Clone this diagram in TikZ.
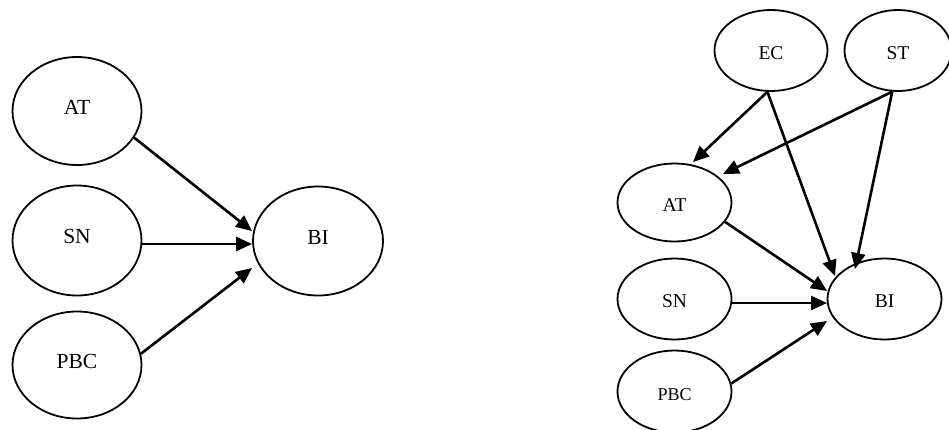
\documentclass[tikz,border=0pt]{standalone}
\usepackage{fontspec}
\setmainfont{Liberation Serif}
\usetikzlibrary{shapes.geometric,arrows.meta}
\begin{document}
\begin{tikzpicture}[x=1pt,y=-1pt,
  var/.style={ellipse, draw, line width=1.8pt, inner sep=0pt},
  lvar/.style={var, minimum width=129pt, minimum height=109pt,
    font=\fontsize{21.5}{25}\selectfont, text height=14.2pt, text depth=8pt},
  rvar/.style={var, minimum width=114pt, minimum height=81pt,
    font=\fontsize{19.5}{23}\selectfont, text height=17.9pt, text depth=0pt},
  link/.style={line width=2.6pt, -{Triangle[length=16pt,width=14pt]}},
]
\useasboundingbox (0,0) rectangle (949,429);

% ---- basic model ----
\node[lvar, minimum height=108pt] (AT)  at (77,111)   {AT};
\node[lvar, minimum height=110pt] (SN)  at (77,240.5) {SN};
\node[lvar, minimum height=107pt] (PBC) at (77,365)   {PBC};
\node[lvar, minimum width=130pt]  (BI)  at (318,241)  {BI};

\coordinate (BIa) at (252,231);
\coordinate (BIb) at (252,244);
\coordinate (BIc) at (252,268);

\draw[link] (AT.-25) -- (BIa);
\draw[link] (SN.east |- BIb) -- (BIb);
\draw[link] (PBC.10.5) -- (BIc);

% ---- extended model ----
\node[rvar, minimum width=113pt] (rEC)  at (771,50.5)   {EC};
\node[rvar, minimum width=107pt] (rST)  at (898,50.5)   {ST};
\node[rvar, minimum height=78pt] (rAT)  at (674.5,202.5) {AT};
\node[rvar]                      (rSN)  at (674.5,299)   {SN};
\node[rvar, minimum height=82pt, font=\fontsize{18}{21}\selectfont]
                                 (rPBC) at (674.5,391.5) {PBC};
\node[rvar]                      (rBI)  at (884.5,299)   {BI};

\coordinate (rATa) at (693,162);
\coordinate (rATb) at (723,174);
\coordinate (rBIa) at (835,276);
\coordinate (rBIb) at (855,269);
\coordinate (rBIc) at (827,291);
\coordinate (rBId) at (827,303);
\coordinate (rBIe) at (827,321);

\draw[link] (rEC.-95) -- (rATa);
\draw[link] (rEC.-95) -- (rBIa);
\draw[link] (rST.-98) -- (rATb);
\draw[link] (rST.-98) -- (rBIb);
\draw[link] (rAT.-21.5) -- (rBIc);
\draw[link] (rSN.east |- rBId) -- (rBId);
\draw[link] (rPBC.8) -- (rBIe);
\end{tikzpicture}
\end{document}
